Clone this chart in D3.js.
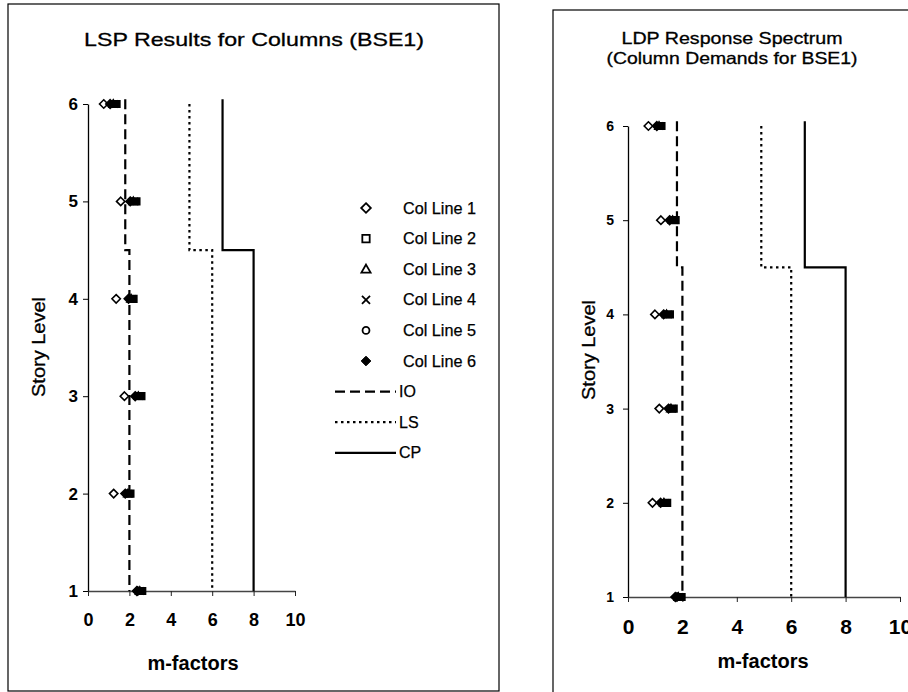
<!DOCTYPE html>
<html><head><meta charset="utf-8">
<script src="https://cdn.jsdelivr.net/npm/d3@7"></script>
<style>body{margin:0;background:#fff}svg{display:block}text{font-family:"Liberation Sans",Arial,sans-serif;fill:#000}</style>
</head><body>
<svg id="c" width="908" height="692"></svg>
<script>
// ---- data ----
const levels = [1, 2, 3, 4, 5, 6];
const xTicks = [0, 2, 4, 6, 8, 10];
const yTicks = [1, 2, 3, 4, 5, 6];
const seriesNames = ["Col Line 1", "Col Line 2", "Col Line 3", "Col Line 4", "Col Line 5", "Col Line 6"];
const limitNames = ["IO", "LS", "CP"];

// LSP (left chart), values per story level 1..6
const lspCol1 = [2.40, 1.24, 1.76, 1.36, 1.58, 0.76];
const lspCol2 = [2.62, 2.05, 2.58, 2.20, 2.34, 1.38];
const lspCol3 = [2.50, 1.93, 2.43, 2.08, 2.19, 1.22];
const lspCol4 = [2.56, 1.98, 2.50, 2.14, 2.26, 1.30];
const lspCol5 = [2.45, 1.88, 2.36, 2.02, 2.12, 1.15];
const lspCol6 = [2.36, 1.80, 2.28, 1.96, 2.04, 1.07];

// LDP response spectrum (right chart)
const ldpCol1 = [1.80, 0.90, 1.15, 0.99, 1.21, 0.75];
const ldpCol2 = [1.97, 1.44, 1.68, 1.54, 1.75, 1.23];
const ldpCol3 = [1.85, 1.32, 1.58, 1.42, 1.64, 1.14];
const ldpCol4 = [1.91, 1.38, 1.63, 1.48, 1.70, 1.18];
const ldpCol5 = [1.80, 1.26, 1.53, 1.36, 1.59, 1.10];
const ldpCol6 = [1.74, 1.20, 1.49, 1.31, 1.53, 1.06];

// acceptance criteria step lines: [m, level]
const ioLine = [[1.8, 6.05], [1.8, 4.5], [2.0, 4.5], [2.0, 1]];
const lsLine = [[4.9, 6.0], [4.9, 4.5], [6.0, 4.5], [6.0, 1]];
const cpLine = [[6.5, 6.05], [6.5, 4.5], [8.0, 4.5], [8.0, 1]];

// ---- drawing ----
const svg = d3.select("#c");
const fills = ["#fff", "#fff", "#fff", "none", "#fff", "#000"];
const limitStyles = [
  {dash: "10,5", w: 2.2},
  {dash: "2.5,3.5", w: 2.2},
  {dash: null, w: 2.2}
];

function markerPath(i, k) {
  k = k || 1;
  const p = d3.path();
  if (i === 0 || i === 5) { const r = 4.2 * k; p.moveTo(0, -r); p.lineTo(r, 0); p.lineTo(0, r); p.lineTo(-r, 0); p.closePath(); return p.toString(); }
  if (i === 1) { const r = 3.2 * k; p.rect(-r, -r, 2 * r, 2 * r); return p.toString(); }
  if (i === 2) { p.moveTo(0, -4 * k); p.lineTo(4 * k, 3 * k); p.lineTo(-4 * k, 3 * k); p.closePath(); return p.toString(); }
  if (i === 3) { const s = 3.5 * k; return `M${-s},${-s}L${s},${s}M${-s},${s}L${s},${-s}`; }
  p.arc(0, 0, 3 * k, 0, 2 * Math.PI); return p.toString();
}

function drawChart(cfg) {
  const g = svg.append("g");
  g.append("rect").attr("x", cfg.frame[0]).attr("y", cfg.frame[1])
    .attr("width", cfg.frame[2]).attr("height", cfg.frame[3])
    .attr("fill", "none").attr("stroke", "#000").attr("stroke-width", 1.2);

  const x = d3.scaleLinear().domain([0, 10]).range(cfg.xr);
  const y = d3.scaleLinear().domain([1, 6]).range(cfg.yr);

  cfg.title.forEach((t, i) => {
    g.append("text").attr("x", cfg.titlePos[0]).attr("y", cfg.titlePos[1] + i * cfg.titleLH)
      .attr("text-anchor", "middle").attr("font-size", cfg.titleFS)
      .attr("stroke", "#000").attr("stroke-width", 0.3)
      .attr("textLength", cfg.titleLen[i]).attr("lengthAdjust", "spacingAndGlyphs").text(t);
  });

  const ya = g.append("g").attr("transform", `translate(${cfg.xr[0]},0)`)
    .call(d3.axisLeft(y).tickValues(yTicks).tickSize(5).tickSizeOuter(0).tickPadding(cfg.yPad).tickFormat(d3.format("d")));
  ya.select(".domain").attr("stroke", "#000").attr("stroke-width", 1.3);
  ya.selectAll(".tick line").attr("stroke", "#000");
  ya.selectAll(".tick text").attr("font-size", cfg.yFS).attr("font-weight", "bold")
    .attr("font-family", "Liberation Sans, Arial, sans-serif").attr("fill", "#000");

  const xa = g.append("g").attr("transform", `translate(0,${cfg.yr[0]})`)
    .call(d3.axisBottom(x).tickValues(xTicks).tickSize(5).tickSizeOuter(0).tickPadding(cfg.xPad).tickFormat(d3.format("d")));
  xa.select(".domain").attr("stroke", "#444").attr("stroke-width", 1.3);
  xa.selectAll(".tick line").attr("stroke", "#222");
  xa.selectAll(".tick text").attr("font-size", cfg.xFS).attr("font-weight", "bold")
    .attr("font-family", "Liberation Sans, Arial, sans-serif").attr("fill", "#000");

  g.append("text").attr("x", cfg.xTitlePos[0]).attr("y", cfg.xTitlePos[1])
    .attr("text-anchor", "middle").attr("font-size", 20).attr("font-weight", "bold").text("m-factors");
  g.append("text").attr("transform", `translate(${cfg.yTitlePos[0]},${cfg.yTitlePos[1]}) rotate(-90)`)
    .attr("text-anchor", "middle").attr("font-size", 18)
    .attr("stroke", "#000").attr("stroke-width", 0.3)
    .attr("textLength", 100).attr("lengthAdjust", "spacingAndGlyphs").text("Story Level");

  const line = d3.line().x(d => x(d[0])).y(d => y(d[1]));
  [ioLine, lsLine, cpLine].forEach((ln, i) => {
    g.append("path").attr("d", line(ln)).attr("fill", "none").attr("stroke", "#000")
      .attr("stroke-width", limitStyles[i].w).attr("stroke-dasharray", limitStyles[i].dash);
  });

  const order = [0, 4, 2, 3, 1, 5];
  order.forEach(si => {
    const vals = cfg.series[si];
    g.selectAll(null).data(levels.map((lv, k) => [vals[k], lv])).enter().append("path")
      .attr("transform", d => `translate(${x(d[0])},${y(d[1])})`)
      .attr("d", markerPath(si))
      .attr("fill", si === 0 ? "#fff" : (si === 3 ? "none" : "#000"))
      .attr("stroke", "#000").attr("stroke-width", si === 0 ? 1.6 : 1.8);
  });
}

drawChart({
  frame: [8, 4, 491, 687],
  xr: [88, 295], yr: [591, 104],
  title: ["LSP Results for Columns (BSE1)"], titlePos: [254, 46], titleLH: 0, titleFS: 19, titleLen: [340],
  yFS: 17, yPad: 5, xFS: 18, xPad: 17,
  xTitlePos: [193, 670], yTitlePos: [45, 347],
  series: [lspCol1, lspCol2, lspCol3, lspCol4, lspCol5, lspCol6]
});
drawChart({
  frame: [553, 10, 400, 700],
  xr: [628, 900], yr: [597, 126],
  title: ["LDP Response Spectrum", "(Column Demands for BSE1)"], titlePos: [732, 44], titleLH: 19.5, titleFS: 16.5, titleLen: [221, 251],
  yFS: 14, yPad: 9, xFS: 21, xPad: 17,
  xTitlePos: [763, 668], yTitlePos: [595, 350],
  series: [ldpCol1, ldpCol2, ldpCol3, ldpCol4, ldpCol5, ldpCol6]
});

// legend (left chart)
const leg = svg.append("g");
const legX = 366, legTX = 403, legY0 = 208, legDY = 30.6;
seriesNames.forEach((nm, i) => {
  const yy = legY0 + i * legDY;
  leg.append("path").attr("transform", `translate(${legX},${yy})`)
    .attr("d", markerPath(i, 1.15))
    .attr("fill", fills[i]).attr("stroke", "#000").attr("stroke-width", i === 5 ? 1 : 1.8);
  leg.append("text").attr("x", legTX).attr("y", yy + 5.5).attr("font-size", 16)
    .attr("stroke", "#000").attr("stroke-width", 0.25)
    .attr("textLength", 73).attr("lengthAdjust", "spacingAndGlyphs").text(nm);
});
limitNames.forEach((nm, i) => {
  const yy = legY0 + (6 + i) * legDY;
  leg.append("line").attr("x1", 335).attr("x2", 396).attr("y1", yy).attr("y2", yy)
    .attr("stroke", "#000").attr("stroke-width", limitStyles[i].w).attr("stroke-dasharray", limitStyles[i].dash);
  leg.append("text").attr("x", legTX - 4).attr("y", yy + 5.5).attr("font-size", 16)
    .attr("stroke", "#000").attr("stroke-width", 0.25).text(nm);
});
</script>
</body></html>
